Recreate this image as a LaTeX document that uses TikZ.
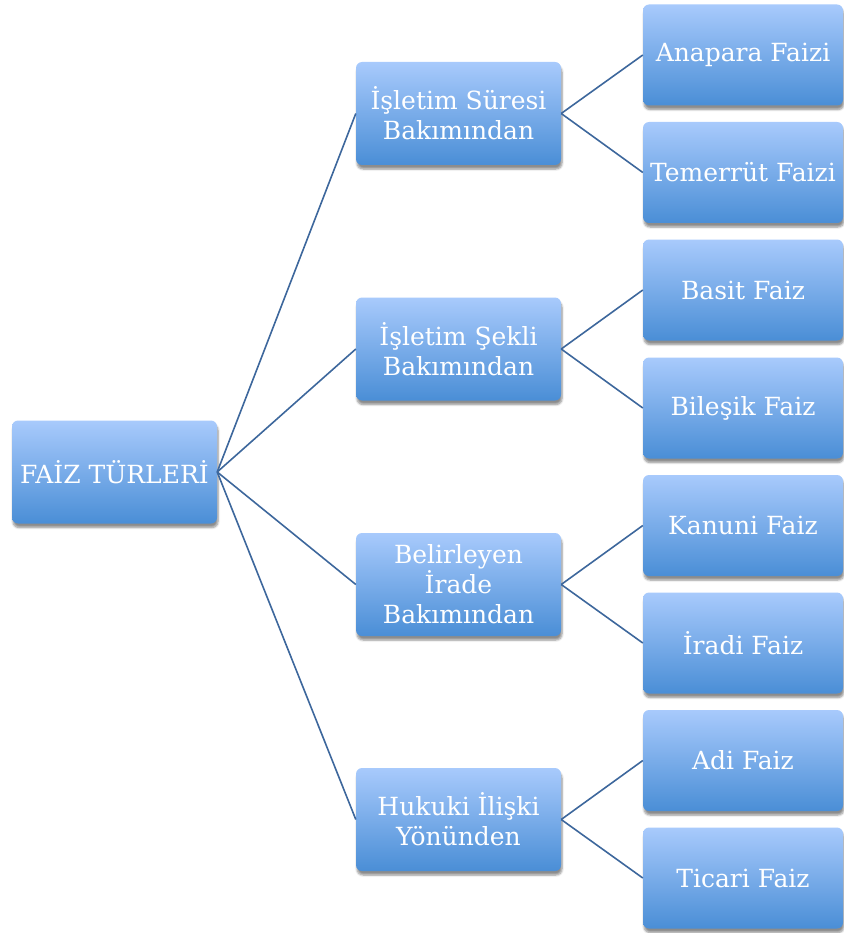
\documentclass[tikz,border=0pt]{standalone}
\usepackage{fontspec}
\setmainfont{DejaVu Serif}
\usepackage{xcolor}
\usepackage{tikz}
\usetikzlibrary{positioning,shadows.blur}

\definecolor{boxtop}{HTML}{A8CAFC}
\definecolor{boxbot}{HTML}{4A8ED6}
\definecolor{linkcol}{HTML}{3D679C}

\begin{document}
\begin{tikzpicture}[x=1pt,y=1pt,
				box/.style={
					rounded corners=6pt, align=center,
					top color=boxtop, bottom color=boxbot,
					text=white, inner sep=0pt,
					minimum width=205pt, minimum height=103pt,
					font=\fontsize{25}{30}\selectfont,
					blur shadow={shadow xshift=1pt, shadow yshift=-4pt,
						shadow blur steps=6, shadow opacity=45},
				},
				leaf/.style={box, minimum width=200pt, minimum height=101pt},
				link/.style={draw=linkcol, line width=1.6pt},
				]
				\useasboundingbox (0,0) rectangle (843,-933);
				
				\node[box] (faiz) at (114.5,-472) {FAİZ TÜRLERİ};
				
				\node[box] (sure) at (458.5,-113.5) {İşletim Süresi\\Bakımından};
				\node[box] (sekil) at (458.5,-349) {İşletim Şekli\\Bakımından};
				\node[box] (irade) at (458.5,-584.5) {Belirleyen\\İrade\\Bakımından};
				\node[box] (iliski) at (458.5,-819.5) {Hukuki İlişki\\Yönünden};
				
				\node[leaf] (anapara) at (743,-55) {Anapara Faizi};
				\node[leaf] (temerrut) at (743,-172.5) {Temerrüt Faizi};
				\node[leaf] (basit) at (743,-290) {Basit Faiz};
				\node[leaf] (bilesik) at (743,-408) {Bileşik Faiz};
				\node[leaf] (kanuni) at (743,-525.5) {Kanuni Faiz};
				\node[leaf] (iradi) at (743,-643) {İradi Faiz};
				\node[leaf] (adi) at (743,-760.5) {Adi Faiz};
				\node[leaf] (ticari) at (743,-878) {Ticari Faiz};
				
				% root to groups
				\draw[link] (faiz.east) -- (sure.west);
				\draw[link] (faiz.east) -- (sekil.west);
				\draw[link] (faiz.east) -- (irade.west);
				\draw[link] (faiz.east) -- (iliski.west);
				
				% groups to kinds
				\draw[link] (sure.east) -- (anapara.west);
				\draw[link] (sure.east) -- (temerrut.west);
				\draw[link] (sekil.east) -- (basit.west);
				\draw[link] (sekil.east) -- (bilesik.west);
				\draw[link] (irade.east) -- (kanuni.west);
				\draw[link] (irade.east) -- (iradi.west);
				\draw[link] (iliski.east) -- (adi.west);
				\draw[link] (iliski.east) -- (ticari.west);
			\end{tikzpicture}
\end{document}
